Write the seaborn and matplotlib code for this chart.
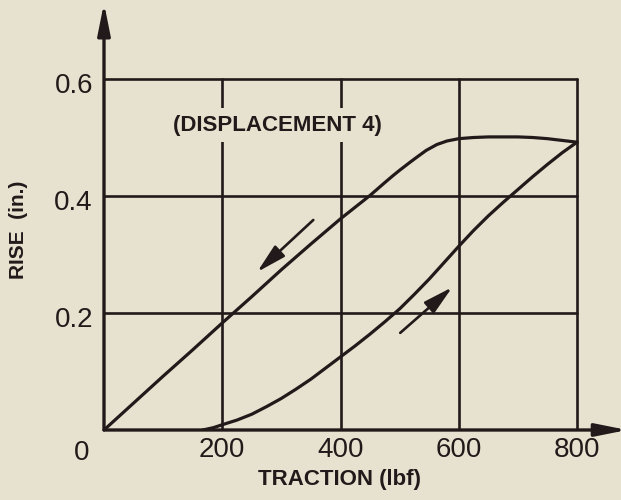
import matplotlib
matplotlib.use("Agg")
import matplotlib.pyplot as plt
import pandas as pd
import seaborn as sns
from matplotlib.transforms import ScaledTranslation

# Loading branch: traction (lbf) vs rise (in.)
load_traction = [167, 185, 200, 225, 250, 275, 300, 325, 350, 375, 400, 425, 450,
                 475, 500, 525, 550, 575, 600, 625, 650, 675, 700, 725, 750, 775, 800]
load_rise = [0.0, 0.004, 0.009, 0.017, 0.027, 0.040, 0.054, 0.070, 0.087, 0.106,
             0.125, 0.144, 0.164, 0.185, 0.207, 0.232, 0.258, 0.286, 0.314, 0.341,
             0.366, 0.389, 0.411, 0.433, 0.454, 0.474, 0.492]

# Unloading branch, from peak traction back to zero
unload_traction = [800, 775, 750, 725, 700, 675, 650, 625, 600, 580, 563, 545, 530,
                   518, 500, 489, 475, 450, 425, 400, 350, 300, 250, 200, 150, 100,
                   50, 0]
unload_rise = [0.492, 0.495, 0.498, 0.500, 0.501, 0.501, 0.501, 0.500, 0.498, 0.494,
               0.488, 0.478, 0.467, 0.458, 0.444, 0.435, 0.423, 0.401, 0.381, 0.361,
               0.318, 0.274, 0.228, 0.183, 0.137, 0.092, 0.046, 0.0]

x_ticks = [200, 400, 600, 800]
x_tick_labels = ["200", "400", "600", "800"]
y_ticks = [0.2, 0.4, 0.6]
y_tick_labels = ["0.2", "0.4", "0.6"]

# direction markers (tail -> head) along each branch
unload_arrow = [(354, 0.359), (259, 0.270)]
load_arrow = [(501, 0.166), (589, 0.244)]

BG = "#e7e2cf"
INK = "#221a1a"

sns.set_theme(style="white")
plt.rcParams["font.family"] = ["Liberation Sans", "DejaVu Sans"]

X_MAX, Y_MAX = 885, 0.73
fig = plt.figure(figsize=(6.21, 5.0), dpi=100, facecolor=BG)
ax = fig.add_axes([104 / 621, 70 / 500, X_MAX * 0.59125 / 621, Y_MAX * 585 / 500])
ax.set_facecolor(BG)
ax.set_xlim(0, X_MAX)
ax.set_ylim(0, Y_MAX)
for s in ax.spines.values():
    s.set_visible(False)

# grid / frame
ax.hlines(y_ticks, 0, 800, color=INK, lw=1.9, capstyle="round", zorder=1)
ax.vlines(x_ticks, 0, 0.6, color=INK, lw=1.9, capstyle="round", zorder=1)

# axes with arrowheads
arrow_style = dict(arrowstyle="-|>,head_length=1.9,head_width=0.38",
                   color=INK, lw=2.4, shrinkA=0, shrinkB=0, mutation_scale=10)
ax.annotate("", xy=(X_MAX, 0), xytext=(0, 0), arrowprops=arrow_style,
            annotation_clip=False, zorder=4)
ax.annotate("", xy=(0, Y_MAX), xytext=(0, 0), arrowprops=arrow_style,
            annotation_clip=False, zorder=4)

curves = pd.concat([
    pd.DataFrame({"traction": load_traction, "rise": load_rise, "branch": "load"}),
    pd.DataFrame({"traction": unload_traction, "rise": unload_rise, "branch": "unload"}),
], ignore_index=True)
sns.lineplot(data=curves, x="traction", y="rise", units="branch", estimator=None,
             sort=False, color=INK, lw=2.3, ax=ax, zorder=3)
for ln in ax.get_lines():
    ln.set_solid_joinstyle("round")

dir_style = dict(arrowstyle="-|>,head_length=1.8,head_width=0.45",
                 color=INK, lw=1.9, shrinkA=0, shrinkB=0, mutation_scale=10)
for tail, head in (unload_arrow, load_arrow):
    ax.annotate("", xy=head, xytext=tail, arrowprops=dir_style, zorder=3)

ax.text(294, 0.521, "(DISPLACEMENT 4)", ha="center", va="center",
        fontsize=16, fontweight="bold", color=INK, zorder=5,
        bbox=dict(boxstyle="square,pad=0.3", fc=BG, ec="none"))

ax.set_xticks(x_ticks, x_tick_labels)
ax.set_yticks(y_ticks, y_tick_labels)
ax.tick_params(axis="both", length=0, labelsize=20, labelcolor=INK)
ax.tick_params(axis="x", pad=5)
ax.tick_params(axis="y", pad=8)
for lab in ax.get_yticklabels():
    lab.set_transform(lab.get_transform() + ScaledTranslation(0, -0.04, fig.dpi_scale_trans))

ax.annotate("0", xy=(0, 0), xytext=(-22, -23), textcoords="offset pixels",
            ha="center", va="center", fontsize=20, color=INK)

ax.set_xlabel("")
ax.set_ylabel("")
fig.text(340 / 621, 1 - 479 / 500, "TRACTION (lbf)", ha="center", va="center",
         fontsize=16, fontweight="bold", color=INK)
fig.text(19 / 621, 1 - 230 / 500, "RISE  (in.)", ha="center", va="center",
         rotation=90, fontsize=15, fontweight="bold", color=INK)

fig.savefig("out.png", dpi=100, facecolor=BG)
